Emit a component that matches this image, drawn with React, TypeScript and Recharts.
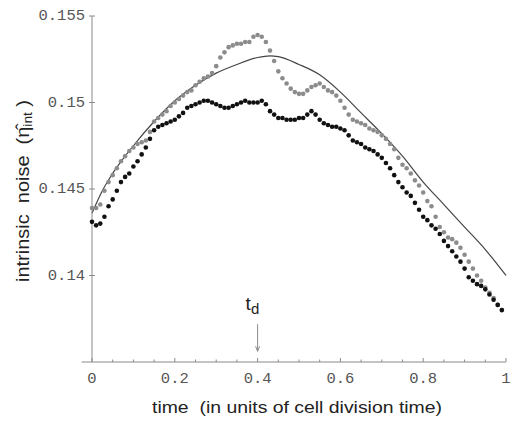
import { ComposedChart, Line, Scatter, XAxis, YAxis, ReferenceLine, ReferenceDot } from "recharts"

// sample times (units of cell division time)
const times = [
  0.0, 0.01, 0.02, 0.03, 0.04, 0.05, 0.06, 0.07, 0.08, 0.09,
  0.1, 0.11, 0.12, 0.13, 0.14, 0.15, 0.16, 0.17, 0.18, 0.19,
  0.2, 0.21, 0.22, 0.23, 0.24, 0.25, 0.26, 0.27, 0.28, 0.29,
  0.3, 0.31, 0.32, 0.33, 0.34, 0.35, 0.36, 0.37, 0.38, 0.39,
  0.4, 0.41, 0.42, 0.43, 0.44, 0.45, 0.46, 0.47, 0.48, 0.49,
  0.5, 0.51, 0.52, 0.53, 0.54, 0.55, 0.56, 0.57, 0.58, 0.59,
  0.6, 0.61, 0.62, 0.63, 0.64, 0.65, 0.66, 0.67, 0.68, 0.69,
  0.7, 0.71, 0.72, 0.73, 0.74, 0.75, 0.76, 0.77, 0.78, 0.79,
  0.8, 0.81, 0.82, 0.83, 0.84, 0.85, 0.86, 0.87, 0.88, 0.89,
  0.9, 0.91, 0.92, 0.93, 0.94, 0.95, 0.96, 0.97, 0.98, 0.99,
]

// gray dots
const grayNoise = [
  0.1439, 0.1439, 0.1441, 0.1449, 0.1454, 0.1458, 0.1462, 0.1466, 0.1469, 0.1472,
  0.1474, 0.1476, 0.1477, 0.1478, 0.1483, 0.1489, 0.1491, 0.1493, 0.1495, 0.1498,
  0.15, 0.1502, 0.1504, 0.1506, 0.1507, 0.151, 0.1512, 0.1514, 0.1515, 0.1517,
  0.1521, 0.1526, 0.1529, 0.1532, 0.1533, 0.1534, 0.1534, 0.1535, 0.1535, 0.1538,
  0.1539, 0.1538, 0.1535, 0.153, 0.1524, 0.1518, 0.1514, 0.1511, 0.1508, 0.1506,
  0.1505, 0.1505, 0.1507, 0.1509, 0.151, 0.1511, 0.1509, 0.1507, 0.1506, 0.1504,
  0.1501, 0.1497, 0.1493, 0.149, 0.1489, 0.1488, 0.1487, 0.1485, 0.1484, 0.1483,
  0.1481, 0.1479, 0.1476, 0.1473, 0.1468, 0.1464, 0.1462, 0.1459, 0.1455, 0.1452,
  0.1448, 0.1443, 0.144, 0.1434, 0.1428, 0.1425, 0.1422, 0.1421, 0.1419, 0.1416,
  0.1412, 0.1408, 0.1404, 0.14, 0.1397, 0.1393, 0.139, 0.1387, 0.1383, 0.138,
]

// black dots
const blackNoise = [
  0.1431, 0.1429, 0.143, 0.1434, 0.144, 0.1444, 0.1449, 0.1454, 0.1457, 0.1459,
  0.1463, 0.1466, 0.147, 0.1474, 0.1479, 0.1484, 0.1486, 0.1487, 0.1488, 0.1489,
  0.149, 0.1492, 0.1494, 0.1497, 0.1498, 0.1499, 0.15, 0.1501, 0.1501, 0.15,
  0.1499, 0.1498, 0.1497, 0.1497, 0.1498, 0.1499, 0.15, 0.1501, 0.15, 0.15,
  0.15, 0.1501, 0.1499, 0.1495, 0.1493, 0.1491, 0.1491, 0.149, 0.149, 0.149,
  0.1491, 0.1491, 0.1493, 0.1495, 0.1493, 0.149, 0.1488, 0.1487, 0.1486, 0.1486,
  0.1485, 0.1484, 0.1481, 0.1478, 0.1477, 0.1476, 0.1474, 0.1473, 0.1472, 0.147,
  0.1468, 0.1465, 0.1462, 0.1458, 0.1454, 0.1451, 0.1448, 0.1446, 0.1442, 0.1438,
  0.1434, 0.1432, 0.1429, 0.1427, 0.1424, 0.142, 0.1417, 0.1414, 0.1411, 0.1408,
  0.1404, 0.1399, 0.1397, 0.1395, 0.1394, 0.1392, 0.1389, 0.1386, 0.1383, 0.138,
]

// solid theory curve
const theoryTime = [0, 0.025, 0.05, 0.1, 0.15, 0.2, 0.25, 0.3, 0.35, 0.4, 0.43, 0.45, 0.5, 0.55, 0.6, 0.65, 0.7, 0.75, 0.8, 0.85, 0.9, 0.95, 1.0]
const theoryNoise = [0.1436, 0.1449, 0.1459, 0.1475, 0.1489, 0.1501, 0.151, 0.1517, 0.1522, 0.1526, 0.1527, 0.15265, 0.1522, 0.1516, 0.1506, 0.1494, 0.1482, 0.1469, 0.1454, 0.1441, 0.1428, 0.1415, 0.14]

const xTicks = [0, 0.05, 0.1, 0.15, 0.2, 0.25, 0.3, 0.35, 0.4, 0.45, 0.5, 0.55, 0.6, 0.65, 0.7, 0.75, 0.8, 0.85, 0.9, 0.95, 1]
const yTicks = [0.14, 0.145, 0.15, 0.155]

const grayData = times.map((t, i) => ({ t, v: grayNoise[i] }))
const blackData = times.map((t, i) => ({ t, v: blackNoise[i] }))
const theoryData = theoryTime.map((t, i) => ({ t, v: theoryNoise[i] }))

const mono = "'Liberation Mono', 'DejaVu Sans Mono', monospace"
const sans = "'Liberation Sans', Arial, sans-serif"
const axisGray = "#8a8a8a"
const sp = "\u00a0"

const XTick = (props: any) => {
  const { x, y, payload } = props
  const v = payload.value
  const major = Math.abs(v * 5 - Math.round(v * 5)) < 1e-6
  return (
    <g>
      <line x1={x} x2={x} y1={y} y2={y - (major ? 4 : 2.5)} stroke={axisGray} strokeWidth={1} />
      {major && (
        <text x={x} y={y + 21} textAnchor="middle" fontFamily={mono} fontSize={15.5} fill="#555">
          {String(Math.round(v * 10) / 10)}
        </text>
      )}
    </g>
  )
}

const YTick = (props: any) => {
  const { x, y, payload } = props
  return (
    <g>
      <line x1={x - 3} x2={x + 3} y1={y} y2={y} stroke={axisGray} strokeWidth={1} />
      <text x={x - 7} y={y} textAnchor="end" dominantBaseline="central" fontFamily={mono} fontSize={15.5} fill="#555">
        {String(payload.value)}
      </text>
    </g>
  )
}

const dot = (color: string) => (p: any) => <circle cx={p.cx} cy={p.cy} r={2.3} fill={color} />

const DivisionMark = (p: any) => {
  const { cx, cy } = p
  return (
    <g>
      <line x1={cx} x2={cx} y1={cy - 27} y2={cy} stroke={axisGray} strokeWidth={1} />
      <path d={`M${cx - 2} ${cy - 5} L${cx} ${cy} L${cx + 2} ${cy - 5}`} fill="none" stroke={axisGray} strokeWidth={1} />
      <text x={cx - 12} y={cy - 41} fontFamily={sans} fontSize={19} fill="#222">
        t
        <tspan fontSize={15} dy={4}>d</tspan>
      </text>
    </g>
  )
}

export default function App() {
  return (
    <div style={{ position: "absolute", left: 0, top: 0, background: "#fff" }}>
      <ComposedChart width={512} height={421} margin={{ top: 16, right: 6, left: 0, bottom: 0 }}>
        <XAxis
          type="number"
          dataKey="t"
          domain={[0, 1]}
          ticks={xTicks}
          interval={0}
          tickSize={0}
          tickMargin={0}
          tickLine={false}
          tick={<XTick />}
          axisLine={{ stroke: axisGray }}
          height={59}
        />
        <YAxis
          type="number"
          domain={[0.135, 0.155]}
          ticks={yTicks}
          interval={0}
          tickSize={0}
          tickMargin={0}
          tickLine={false}
          tick={<YTick />}
          axisLine={{ stroke: axisGray }}
          width={92}
          allowDataOverflow
        />
        <ReferenceLine
          segment={[{ x: -0.025, y: 0.135 }, { x: 0, y: 0.135 }]}
          stroke={axisGray}
          ifOverflow="visible"
        />
        <Scatter data={grayData} dataKey="v" fill="#8c8c8c" shape={dot("#8c8c8c")} isAnimationActive={false} />
        <Scatter data={blackData} dataKey="v" fill="#111" shape={dot("#111")} isAnimationActive={false} />
        <Line data={theoryData} dataKey="v" type="monotone" stroke="#444" strokeWidth={1.2} dot={false} isAnimationActive={false} />
        <ReferenceDot x={0.4} y={0.13562} r={0} ifOverflow="visible" shape={DivisionMark} />
      </ComposedChart>
      <svg width={512} height={421} style={{ position: "absolute", left: 0, top: 0, pointerEvents: "none" }}>
        <text x={297} y={413} textAnchor="middle" fontFamily={sans} fontSize={16} fill="#222" textLength={290} lengthAdjust="spacingAndGlyphs">
          {`time${sp}${sp}(in units of cell division time)`}
        </text>
        <text transform="translate(29, 191) rotate(-90)" textAnchor="middle" fontFamily={sans} fontSize={19} fill="#222" textLength={182} lengthAdjust="spacingAndGlyphs">
          {`intrinsic${sp}${sp}noise${sp}${sp}(η\u0302`}
          <tspan fontSize={13} dy={3}>int</tspan>
          <tspan dy={-3}>{`${sp})`}</tspan>
        </text>
      </svg>
    </div>
  )
}
